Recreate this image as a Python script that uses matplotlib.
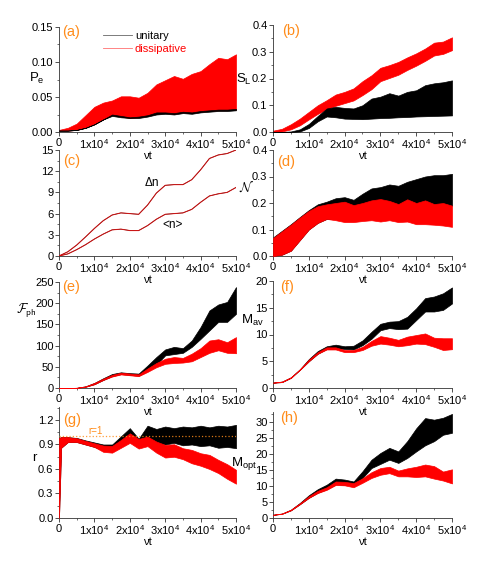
import numpy as np
import matplotlib
matplotlib.use("Agg")
import matplotlib.pyplot as plt
from matplotlib.ticker import MultipleLocator, FormatStrFormatter, FuncFormatter
from matplotlib.lines import Line2D

plt.rcParams["font.family"] = ["Liberation Sans", "DejaVu Sans"]
plt.rcParams["mathtext.fontset"] = "custom"
plt.rcParams["mathtext.rm"] = "Liberation Sans"
plt.rcParams["mathtext.it"] = "Liberation Sans:italic"
plt.rcParams["mathtext.default"] = "regular"

# time grid (vt)
t = np.arange(0, 50001, 2500)
t_g = np.concatenate([[0, 600], t[1:]])

# (a) P_e
a_diss_hi = [0.003, 0.006, 0.012, 0.024, 0.036, 0.042, 0.045, 0.051, 0.051, 0.049, 0.056,
             0.068, 0.074, 0.080, 0.076, 0.083, 0.087, 0.097, 0.106, 0.104, 0.111]
a_diss_lo = [0.002, 0.002, 0.003, 0.006, 0.011, 0.018, 0.024, 0.022, 0.020, 0.021, 0.023,
             0.026, 0.027, 0.026, 0.028, 0.027, 0.029, 0.030, 0.031, 0.031, 0.032]
a_unit_hi = [0.002, 0.002, 0.003, 0.006, 0.011, 0.018, 0.025, 0.023, 0.021, 0.022, 0.024,
             0.028, 0.028, 0.027, 0.029, 0.028, 0.030, 0.031, 0.032, 0.032, 0.033]
a_unit_lo = [0.002, 0.002, 0.003, 0.006, 0.011, 0.018, 0.023, 0.021, 0.020, 0.020, 0.022,
             0.025, 0.026, 0.025, 0.027, 0.026, 0.028, 0.029, 0.030, 0.030, 0.031]

# (b) S_L
b_diss_hi = [0.005, 0.012, 0.029, 0.050, 0.075, 0.100, 0.119, 0.140, 0.150, 0.163, 0.190,
             0.212, 0.240, 0.250, 0.262, 0.279, 0.294, 0.312, 0.334, 0.338, 0.354]
b_diss_lo = [0.000, 0.002, 0.010, 0.025, 0.047, 0.068, 0.085, 0.098, 0.108, 0.118, 0.138,
             0.160, 0.190, 0.202, 0.214, 0.232, 0.248, 0.266, 0.286, 0.292, 0.306]
b_unit_hi = [0.000, 0.000, 0.002, 0.010, 0.030, 0.060, 0.088, 0.094, 0.090, 0.088, 0.100,
             0.125, 0.132, 0.145, 0.136, 0.150, 0.156, 0.175, 0.182, 0.186, 0.193]
b_unit_lo = [0.000, 0.000, 0.000, 0.002, 0.015, 0.040, 0.058, 0.055, 0.050, 0.049, 0.048,
             0.050, 0.052, 0.053, 0.055, 0.056, 0.058, 0.059, 0.060, 0.061, 0.062]

# (c) photon number and its spread
c_dn = [0, 0.6, 1.55, 2.7, 3.9, 5.0, 5.8, 6.1, 6.0, 5.9, 7.2,
        8.9, 10.0, 10.1, 10.1, 10.8, 12.2, 13.8, 14.3, 14.5, 15.0]
c_n = [0, 0.3, 0.9, 1.6, 2.4, 3.1, 3.7, 3.8, 3.6, 3.6, 4.3,
       5.2, 5.9, 6.0, 6.1, 6.6, 7.6, 8.5, 8.8, 9.0, 9.7]

# (d) negativity
d_diss_hi = [0.068, 0.093, 0.118, 0.145, 0.170, 0.188, 0.195, 0.200, 0.205, 0.192, 0.200,
             0.210, 0.215, 0.208, 0.196, 0.214, 0.200, 0.210, 0.196, 0.200, 0.190]
d_diss_lo = [0.000, 0.005, 0.020, 0.060, 0.100, 0.125, 0.140, 0.135, 0.128, 0.128, 0.132,
             0.135, 0.130, 0.135, 0.128, 0.130, 0.120, 0.120, 0.118, 0.115, 0.110]
d_unit_hi = [0.070, 0.095, 0.120, 0.147, 0.173, 0.195, 0.205, 0.218, 0.222, 0.212, 0.235,
             0.255, 0.260, 0.270, 0.265, 0.280, 0.290, 0.300, 0.305, 0.305, 0.310]
d_unit_lo = [0.000, 0.005, 0.020, 0.060, 0.100, 0.125, 0.140, 0.140, 0.135, 0.135, 0.150,
             0.165, 0.170, 0.178, 0.180, 0.185, 0.188, 0.190, 0.190, 0.190, 0.190]

# (e) F_ph
e_diss_hi = [0, 0, 0.5, 4, 12, 22, 31, 36, 34, 32, 46, 59, 69, 73, 71, 81, 94, 112, 115, 108, 120]
e_diss_lo = [0, 0, 0.3, 3, 9, 19, 27, 32, 30, 28, 38, 49, 57, 59, 60, 63, 73, 83, 89, 83, 82]
e_unit_hi = [0, 0, 0.5, 4, 12, 23, 33, 37, 35, 34, 53, 73, 91, 97, 94, 112, 144, 183, 197, 203, 238]
e_unit_lo = [0, 0, 0.3, 3, 9, 19, 28, 33, 31, 29, 40, 55, 77, 80, 83, 97, 116, 136, 156, 156, 175]

# (f) M_av
f_diss_hi = [1.0, 1.2, 2.0, 3.5, 5.3, 6.7, 7.6, 7.6, 7.1, 7.1, 7.7,
             8.8, 9.7, 9.4, 9.0, 9.6, 9.9, 10.2, 9.4, 9.3, 9.3]
f_diss_lo = [1.0, 1.1, 1.9, 3.4, 5.0, 6.4, 7.2, 7.2, 6.7, 6.7, 7.1,
             7.9, 8.3, 8.1, 7.8, 8.0, 8.3, 8.2, 7.7, 7.1, 7.25]
f_unit_hi = [1.0, 1.2, 2.0, 3.5, 5.4, 6.9, 7.8, 8.1, 7.8, 7.9, 8.9,
             10.5, 12.0, 12.4, 12.5, 13.3, 14.9, 16.8, 17.1, 17.7, 18.8]
f_unit_lo = [1.0, 1.1, 1.9, 3.4, 5.0, 6.4, 7.3, 7.4, 7.3, 7.2, 8.0,
             9.2, 10.8, 11.2, 11.0, 11.1, 12.7, 14.3, 14.3, 14.6, 15.8]

# (g) r
g_diss_hi = [0.98, 0.99, 0.99, 0.976, 0.944, 0.915, 0.887, 0.883, 0.956, 1.037, 0.968,
             0.997, 0.936, 0.895, 0.903, 0.854, 0.834, 0.793, 0.773, 0.712, 0.659, 0.59]
g_diss_lo = [0.0, 0.86, 0.93, 0.93, 0.90, 0.87, 0.81, 0.80, 0.86, 0.92, 0.85,
             0.88, 0.80, 0.74, 0.75, 0.72, 0.67, 0.64, 0.60, 0.55, 0.48, 0.42]
g_unit_hi = [0.98, 0.99, 0.99, 0.98, 0.95, 0.925, 0.90, 0.90, 1.00, 1.10, 0.97,
             1.13, 1.09, 1.12, 1.10, 1.12, 1.11, 1.13, 1.11, 1.13, 1.12, 1.14]
g_unit_lo = [0.0, 0.86, 0.93, 0.93, 0.90, 0.87, 0.83, 0.83, 0.88, 0.95, 0.91,
             0.95, 0.91, 0.90, 0.92, 0.89, 0.90, 0.88, 0.89, 0.86, 0.87, 0.855]

# (h) M_opt
h_diss_hi = [1.0, 1.4, 2.6, 4.6, 6.8, 8.5, 9.6, 11.4, 11.3, 10.9, 12.4,
             14.3, 15.6, 16.0, 14.8, 15.5, 16.0, 16.7, 16.2, 14.5, 15.2]
h_diss_lo = [1.0, 1.3, 2.4, 4.3, 6.3, 7.8, 8.8, 10.3, 10.2, 9.6, 11.0,
             12.5, 13.5, 14.0, 13.0, 13.0, 12.8, 13.0, 12.3, 11.7, 10.8]
h_unit_hi = [1.0, 1.4, 2.6, 4.7, 7.1, 9.0, 10.4, 12.3, 12.0, 11.4, 14.6,
             18.2, 20.3, 21.9, 20.8, 24.0, 28.0, 31.2, 30.7, 31.3, 32.5]
h_unit_lo = [1.0, 1.3, 2.4, 4.3, 6.3, 7.9, 9.0, 10.5, 10.4, 10.2, 12.5,
             15.6, 16.9, 18.2, 17.2, 18.75, 20.8, 22.7, 24.0, 26.0, 26.6]

W, H = 485, 569
RED = "#ff0000"
ORANGE = "#ff8c1a"
AXC = "#333333"
FS = 8

fig = plt.figure(figsize=(W / 100, H / 100), dpi=100)


def px_axes(x0, x1, top, bottom):
    ax = fig.add_axes([x0 / W, 1 - bottom / H, (x1 - x0) / W, (bottom - top) / H])
    ax.patch.set_visible(False)
    return ax


def xfmt(v, pos):
    if v == 0:
        return "0"
    return "%dx10$^{4}$" % round(v / 1e4)


def style(ax, ylim, ystep, fmt):
    ax.set_xlim(0, 50000)
    ax.set_ylim(*ylim)
    for s in ["top", "right"]:
        ax.spines[s].set_visible(False)
    for s in ["left", "bottom"]:
        ax.spines[s].set_color(AXC)
        ax.spines[s].set_linewidth(0.6)
    ax.xaxis.set_major_locator(MultipleLocator(10000))
    ax.xaxis.set_minor_locator(MultipleLocator(5000))
    ax.xaxis.set_major_formatter(FuncFormatter(xfmt))
    ax.yaxis.set_major_locator(MultipleLocator(ystep))
    ax.yaxis.set_minor_locator(MultipleLocator(ystep / 2))
    ax.yaxis.set_major_formatter(FormatStrFormatter(fmt))
    ax.tick_params(which="major", direction="out", length=3, width=0.6, color=AXC,
                   labelsize=FS, pad=1)
    ax.tick_params(which="minor", direction="out", length=1.6, width=0.5, color=AXC)
    ax.set_xlabel("νt", fontsize=FS, labelpad=0)


def band(ax, x, lo, hi, color, z):
    ax.fill_between(x, lo, hi, facecolor=color, edgecolor=color, linewidth=0.5, zorder=z)


def ftext(x, y, s, **kw):
    fig.text(x / W, 1 - y / H, s, ha="center", va="center", **kw)


LX0, LX1 = 59, 236
RX0, RX1 = 273, 452

ax_a = px_axes(LX0, LX1, 27, 132)
ax_b = px_axes(RX0, RX1, 25, 132)
ax_c = px_axes(LX0, LX1, 150, 256)
ax_d = px_axes(RX0, RX1, 150, 256)
ax_e = px_axes(LX0, LX1, 282, 388)
ax_f = px_axes(RX0, RX1, 281, 388)
ax_g = px_axes(LX0, LX1, 407, 518)
ax_h = px_axes(RX0, RX1, 412, 518)

# (a)
band(ax_a, t, a_diss_lo, a_diss_hi, RED, 2)
band(ax_a, t, a_unit_lo, a_unit_hi, "black", 3)
style(ax_a, (0, 0.15), 0.05, "%.2f")
leg = ax_a.legend([Line2D([], [], color="#666666", lw=0.6),
                   Line2D([], [], color="#ff7070", lw=0.6)],
                  ["unitary", "dissipative"], loc="upper left",
                  bbox_to_anchor=(0.19, 1.06), frameon=False, fontsize=FS,
                  handlelength=2.6, handletextpad=0.3, labelspacing=0.3)
leg.get_texts()[1].set_color(RED)

# (b)
band(ax_b, t, b_diss_lo, b_diss_hi, RED, 2)
band(ax_b, t, b_unit_lo, b_unit_hi, "black", 3)
style(ax_b, (0, 0.4), 0.1, "%.1f")

# (c)
ax_c.plot(t, c_dn, color="black", lw=0.5, zorder=2)
ax_c.plot(t, c_dn, color=RED, lw=0.8, alpha=0.7, zorder=3)
ax_c.plot(t, c_n, color="black", lw=0.5, zorder=2)
ax_c.plot(t, c_n, color=RED, lw=0.8, alpha=0.7, zorder=3)
style(ax_c, (0, 15), 3, "%d")

# (d)
band(ax_d, t, d_unit_lo, d_unit_hi, "black", 2)
band(ax_d, t, d_diss_lo, d_diss_hi, RED, 3)
style(ax_d, (0, 0.4), 0.1, "%.1f")

# (e)
band(ax_e, t, e_unit_lo, e_unit_hi, "black", 2)
band(ax_e, t, e_diss_lo, e_diss_hi, RED, 3)
style(ax_e, (0, 250), 50, "%d")

# (f)
band(ax_f, t, f_unit_lo, f_unit_hi, "black", 2)
band(ax_f, t, f_diss_lo, f_diss_hi, RED, 3)
style(ax_f, (0, 20), 5, "%d")

# (g)
band(ax_g, t_g, g_unit_lo, g_unit_hi, "black", 2)
band(ax_g, t_g, g_diss_lo, g_diss_hi, RED, 3)
ax_g.axhline(1.0, color=ORANGE, ls=":", lw=0.9, alpha=0.85, zorder=5)
style(ax_g, (0, 1.359), 0.3, "%.1f")

# (h)
band(ax_h, t, h_unit_lo, h_unit_hi, "black", 2)
band(ax_h, t, h_diss_lo, h_diss_hi, RED, 3)
style(ax_h, (0, 33.1), 5, "%d")

# panel letters
for (x, y), s in zip([(71, 32), (291, 31), (72, 161), (286, 162),
                      (71, 287), (287, 287), (72, 420), (289, 418)],
                     ["(a)", "(b)", "(c)", "(d)", "(e)", "(f)", "(g)", "(h)"]):
    ftext(x, y, s, color=ORANGE, fontsize=10.5)

# y labels
ftext(37, 78, "P$_e$", fontsize=9.5)
ftext(244, 79, "S$_L$", fontsize=9.5)
ftext(247, 187, r"$\mathcal{N}$", fontsize=9.5, math_fontfamily="cm")
ftext(26, 311, r"$\mathcal{F}_{\mathsf{ph}}$", fontsize=9.5, math_fontfamily="cm")
ftext(252, 320, "M$_{av}$", fontsize=9.5)
ftext(34, 458, "r", fontsize=9.5)
ftext(244, 463, "M$_{opt}$", fontsize=9.5)

# annotations
ftext(152, 183, "Δn", fontsize=8.5)
ftext(173, 225, "<n>", fontsize=8.5)
ftext(96, 431, "r=1", fontsize=7, color=ORANGE)

fig.savefig("out.png", dpi=100)
